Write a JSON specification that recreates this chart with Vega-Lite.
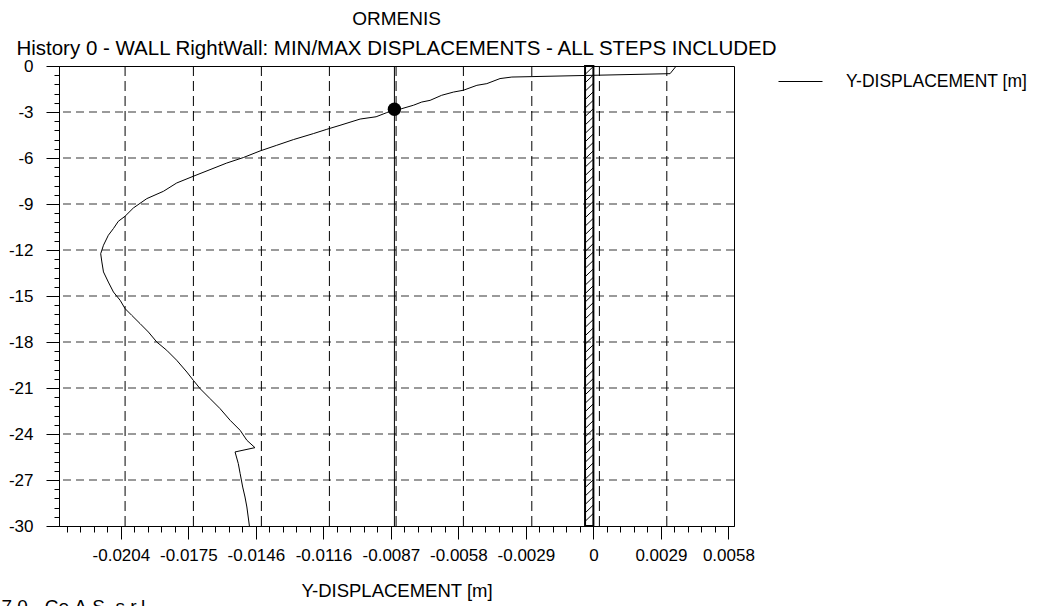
{
  "$schema": "https://vega.github.io/schema/vega-lite/v6.json",
  "width": 675,
  "height": 460,
  "autosize": "none",
  "padding": {"left": 59, "top": 66, "right": 311, "bottom": 80},
  "background": "white",
  "config": {"view": {"stroke": "black", "strokeWidth": 1}, "font": "Liberation Sans"},
  "title": {
    "text": "ORMENIS",
    "subtitle": "History 0 - WALL RightWall: MIN/MAX DISPLACEMENTS - ALL STEPS INCLUDED",
    "anchor": "middle",
    "font": "Liberation Sans",
    "fontSize": 19,
    "fontWeight": "normal",
    "color": "black",
    "subtitleFont": "Liberation Sans",
    "subtitleFontSize": 20.5,
    "subtitleColor": "black",
    "subtitlePadding": 10,
    "offset": -2
  },
  "datasets": {
    "gridY": [{"v": -3}, {"v": -6}, {"v": -9}, {"v": -12}, {"v": -15}, {"v": -18}, {"v": -21}, {"v": -24}, {"v": -27}],
    "gridX": [{"v": -0.020217}, {"v": -0.017268}, {"v": -0.014333}, {"v": -0.011397}, {"v": -0.008518}, {"v": -0.005612}, {"v": -0.002659}, {"v": 0.000259}, {"v": 0.003169}],
    "wall": [{"xa": -0.00036, "xb": 0, "ya": 0, "yb": -30}],
    "hatch": [{"h": -0.55}, {"h": -1.1}, {"h": -1.65}, {"h": -2.2}, {"h": -2.75}, {"h": -3.3}, {"h": -3.85}, {"h": -4.4}, {"h": -4.95}, {"h": -5.5}, {"h": -6.05}, {"h": -6.6}, {"h": -7.15}, {"h": -7.7}, {"h": -8.25}, {"h": -8.8}, {"h": -9.35}, {"h": -9.9}, {"h": -10.45}, {"h": -11}, {"h": -11.55}, {"h": -12.1}, {"h": -12.65}, {"h": -13.2}, {"h": -13.75}, {"h": -14.3}, {"h": -14.85}, {"h": -15.4}, {"h": -15.95}, {"h": -16.5}, {"h": -17.05}, {"h": -17.6}, {"h": -18.15}, {"h": -18.7}, {"h": -19.25}, {"h": -19.8}, {"h": -20.35}, {"h": -20.9}, {"h": -21.45}, {"h": -22}, {"h": -22.55}, {"h": -23.1}, {"h": -23.65}, {"h": -24.2}, {"h": -24.75}, {"h": -25.3}, {"h": -25.85}, {"h": -26.4}, {"h": -26.95}, {"h": -27.5}, {"h": -28.05}, {"h": -28.6}, {"h": -29.15}, {"h": -29.7}],
    "curve": [
      {"x": 0.00355, "y": -0.05}, {"x": 0.00331, "y": -0.5}, {"x": -0.00352, "y": -0.72}, {"x": -0.00403, "y": -0.82},
      {"x": -0.0046, "y": -1.15}, {"x": -0.00503, "y": -1.26}, {"x": -0.00561, "y": -1.58}, {"x": -0.00604, "y": -1.7},
      {"x": -0.00655, "y": -1.91}, {"x": -0.00705, "y": -2.24}, {"x": -0.00741, "y": -2.35}, {"x": -0.00777, "y": -2.56},
      {"x": -0.00827, "y": -2.78}, {"x": -0.00859, "y": -2.82}, {"x": -0.00892, "y": -3.04}, {"x": -0.00938, "y": -3.31},
      {"x": -0.01007, "y": -3.46}, {"x": -0.01094, "y": -3.87}, {"x": -0.01151, "y": -4.13}, {"x": -0.01209, "y": -4.41},
      {"x": -0.01295, "y": -4.8}, {"x": -0.01367, "y": -5.17}, {"x": -0.01439, "y": -5.54}, {"x": -0.01511, "y": -5.97},
      {"x": -0.01583, "y": -6.33}, {"x": -0.01655, "y": -6.76}, {"x": -0.01727, "y": -7.19}, {"x": -0.01799, "y": -7.63},
      {"x": -0.01856, "y": -8.17}, {"x": -0.01928, "y": -8.65}, {"x": -0.01986, "y": -9.26}, {"x": -0.02022, "y": -9.8},
      {"x": -0.02051, "y": -10.13}, {"x": -0.02072, "y": -10.6}, {"x": -0.02094, "y": -11.04}, {"x": -0.02115, "y": -11.69},
      {"x": -0.02127, "y": -12.24}, {"x": -0.02122, "y": -12.78}, {"x": -0.02115, "y": -13.43}, {"x": -0.02094, "y": -14.09},
      {"x": -0.02072, "y": -14.74}, {"x": -0.02043, "y": -15.28}, {"x": -0.02022, "y": -15.82}, {"x": -0.01993, "y": -16.26},
      {"x": -0.01957, "y": -16.8}, {"x": -0.01921, "y": -17.35}, {"x": -0.01885, "y": -18.0}, {"x": -0.01842, "y": -18.54},
      {"x": -0.01799, "y": -19.19}, {"x": -0.01755, "y": -19.96}, {"x": -0.01727, "y": -20.5}, {"x": -0.01698, "y": -21.04},
      {"x": -0.01655, "y": -21.69}, {"x": -0.01612, "y": -22.34}, {"x": -0.01568, "y": -23.11}, {"x": -0.01525, "y": -23.76},
      {"x": -0.01496, "y": -24.41}, {"x": -0.01461, "y": -24.89}, {"x": -0.01547, "y": -25.17}, {"x": -0.01533, "y": -25.93},
      {"x": -0.01525, "y": -26.58}, {"x": -0.01514, "y": -27.46}, {"x": -0.01504, "y": -28.11}, {"x": -0.01496, "y": -28.76},
      {"x": -0.01485, "y": -30.0}
    ],
    "dot": [{"x": -0.00859, "y": -2.82}]
  },
  "resolve": {"axis": {"x": "independent", "y": "independent"}},
  "layer": [
    {
      "data": {"name": "gridY"},
      "mark": {"type": "rule", "color": "#7a7a7a", "strokeWidth": 1.5, "strokeDash": [8, 5]},
      "encoding": {
        "y": {
          "field": "v", "type": "quantitative",
          "scale": {"domain": [-30, 0], "nice": false, "zero": false},
          "axis": {
            "orient": "left",
            "values": [0, -0.6, -1.2, -1.8, -2.4, -3, -3.6, -4.2, -4.8, -5.4, -6, -6.6, -7.2, -7.8, -8.4, -9, -9.6, -10.2, -10.8, -11.4, -12, -12.6, -13.2, -13.8, -14.4, -15, -15.6, -16.2, -16.8, -17.4, -18, -18.6, -19.2, -19.8, -20.4, -21, -21.6, -22.2, -22.8, -23.4, -24, -24.6, -25.2, -25.8, -26.4, -27, -27.6, -28.2, -28.8, -29.4, -30],
            "tickSize": 5, "tickColor": "black", "tickWidth": 1,
            "labels": false, "domain": false, "grid": false, "title": null
          }
        }
      }
    },
    {
      "data": {"name": "gridX"},
      "mark": {"type": "rule", "color": "black", "strokeWidth": 1, "strokeDash": [10, 5]},
      "encoding": {
        "x": {
          "field": "v", "type": "quantitative",
          "scale": {"domain": [-0.02307, 0.00607], "nice": false, "zero": false},
          "axis": {
            "orient": "bottom",
            "values": [-0.0227292, -0.0221464, -0.0215636, -0.0209808, -0.020398, -0.0198152, -0.0192324, -0.0186496, -0.0180668, -0.017484, -0.0169012, -0.0163184, -0.0157356, -0.0151528, -0.01457, -0.0139872, -0.0134044, -0.0128216, -0.0122388, -0.011656, -0.0110732, -0.0104904, -0.0099076, -0.0093248, -0.008742, -0.0081592, -0.0075764, -0.0069936, -0.0064108, -0.005828, -0.0052452, -0.0046624, -0.0040796, -0.0034968, -0.002914, -0.0023312, -0.0017484, -0.0011656, -0.0005828, 0, 0.0005828, 0.0011656, 0.0017484, 0.0023312, 0.002914, 0.0034968, 0.0040796, 0.0046624, 0.0052452, 0.005828],
            "tickSize": 6, "tickColor": "black", "tickWidth": 1,
            "labels": false, "domain": false, "grid": false, "title": null
          }
        }
      }
    },
    {
      "data": {"name": "wall"},
      "mark": {"type": "rect", "fillOpacity": 0, "stroke": "black", "strokeWidth": 2},
      "encoding": {
        "x": {"field": "xa", "type": "quantitative", "scale": {"domain": [-0.02307, 0.00607], "nice": false, "zero": false}, "axis": null},
        "x2": {"field": "xb"},
        "y": {"field": "ya", "type": "quantitative", "scale": {"domain": [-30, 0], "nice": false, "zero": false}, "axis": null},
        "y2": {"field": "yb"}
      }
    },
    {
      "data": {"name": "hatch"},
      "mark": {"type": "rule", "color": "black", "strokeWidth": 1, "y2Offset": -8, "clip": true},
      "encoding": {
        "x": {"datum": -0.00036, "type": "quantitative", "scale": {"domain": [-0.02307, 0.00607], "nice": false, "zero": false}, "axis": null},
        "x2": {"datum": 0},
        "y": {"field": "h", "type": "quantitative", "scale": {"domain": [-30, 0], "nice": false, "zero": false}, "axis": null},
        "y2": {"field": "h"}
      }
    },
    {
      "data": {"name": "curve"},
      "mark": {"type": "line", "strokeWidth": 1},
      "encoding": {
        "x": {
          "field": "x", "type": "quantitative",
          "scale": {"domain": [-0.02307, 0.00607], "nice": false, "zero": false},
          "axis": {
            "orient": "bottom",
            "values": [-0.020398, -0.017484, -0.01457, -0.011656, -0.008742, -0.005828, -0.002914, 0, 0.002914, 0.005828],
            "labelExpr": "datum.value == 0 ? '0' : (abs(datum.value + 0.011656) < 0.000001 ? '-0.0116' : ((datum.value < 0 ? '-' : '') + format(abs(datum.value), '.4f')))",
            "tickSize": 13, "tickColor": "black", "tickWidth": 1,
            "domainColor": "black", "domainWidth": 1,
            "labelColor": "black", "labelFont": "Liberation Sans", "labelFontSize": 17, "labelPadding": 8,
            "labelOverlap": false, "labelFlush": false, "grid": false,
            "title": "Y-DISPLACEMENT [m]", "titleFont": "Liberation Sans", "titleFontSize": 18.5,
            "titleFontWeight": "normal", "titleColor": "black", "titlePadding": 18
          }
        },
        "y": {
          "field": "y", "type": "quantitative",
          "scale": {"domain": [-30, 0], "nice": false, "zero": false},
          "axis": {
            "orient": "left",
            "values": [0, -3, -6, -9, -12, -15, -18, -21, -24, -27, -30],
            "labelExpr": "(datum.value < 0 ? '-' : '') + format(abs(datum.value), 'd')",
            "tickSize": 13, "tickColor": "black", "tickWidth": 1,
            "domainColor": "black", "domainWidth": 1,
            "labelColor": "black", "labelFont": "Liberation Sans", "labelFontSize": 17, "labelPadding": 13,
            "labelOverlap": false, "labelFlush": false, "grid": false,
            "title": "7.0 - Ce.A.S. s.r.l.", "titleFont": "Liberation Sans", "titleFontSize": 19,
            "titleFontWeight": "normal", "titleColor": "black", "titleAngle": 0, "titleAlign": "left",
            "titleBaseline": "alphabetic", "titleX": -58, "titleY": 546
          }
        },
        "order": {"field": "y", "sort": "descending"},
        "color": {
          "datum": "Y-DISPLACEMENT [m]",
          "scale": {"range": ["black"]},
          "legend": {
            "orient": "none", "legendX": 719, "legendY": -7, "title": null, "padding": 0,
            "symbolType": "stroke", "symbolSize": 1936, "symbolStrokeWidth": 1, "symbolStrokeColor": "black",
            "labelFont": "Liberation Sans", "labelFontSize": 17.5, "labelColor": "black", "labelOffset": 23,
            "labelLimit": 300
          }
        }
      }
    },
    {
      "data": {"name": "dot"},
      "mark": {"type": "rule", "color": "black", "strokeWidth": 1},
      "encoding": {
        "x": {"field": "x", "type": "quantitative", "scale": {"domain": [-0.02307, 0.00607], "nice": false, "zero": false}, "axis": null}
      }
    },
    {
      "data": {"name": "dot"},
      "mark": {"type": "point", "filled": true, "color": "black", "opacity": 1, "size": 180},
      "encoding": {
        "x": {"field": "x", "type": "quantitative", "scale": {"domain": [-0.02307, 0.00607], "nice": false, "zero": false}, "axis": null},
        "y": {"field": "y", "type": "quantitative", "scale": {"domain": [-30, 0], "nice": false, "zero": false}, "axis": null}
      }
    }
  ]
}
